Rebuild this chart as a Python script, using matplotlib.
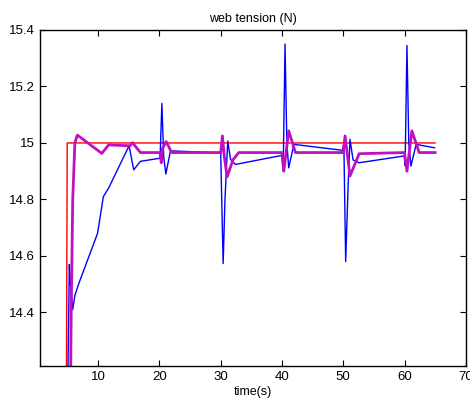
import matplotlib
matplotlib.use("Agg")
import matplotlib.pyplot as plt

# reference tension (red step)
t_ref = [4.8, 4.95, 65.0]
v_ref = [14.0, 15.0, 15.0]

# measured tension (blue)
t_meas = [4.95, 5.3, 5.4, 5.85, 6.2, 6.8, 9.9, 10.85, 11.7, 15.05, 15.8, 16.9,
          20.1, 20.4, 20.7, 21.05, 21.8, 30.0, 30.4, 30.7, 31.15, 31.6, 32.4,
          40.0, 40.2, 40.5, 40.8, 41.1, 41.95, 49.9, 50.1, 50.4, 50.8, 51.1,
          51.6, 52.6, 59.95, 60.1, 60.4, 60.7, 61.05, 61.9, 64.9]
v_meas = [14.0, 14.57, 14.52, 14.41, 14.46, 14.5, 14.68, 14.81, 14.84, 14.99,
          14.905, 14.935, 14.946, 15.14, 14.95, 14.89, 14.972, 14.965, 14.573,
          14.8, 15.007, 14.942, 14.924, 14.956, 14.9, 15.35, 15.0, 14.912,
          14.995, 14.974, 15.0, 14.58, 14.85, 15.013, 14.94, 14.93, 14.954,
          14.92, 15.345, 15.0, 14.918, 14.995, 14.983]

# estimated tension (magenta)
t_est = [5.45, 5.6, 5.85, 6.2, 6.6, 10.6, 11.7, 15.2, 15.6, 16.9, 20.1, 20.3,
         20.5, 21.1, 22.0, 30.0, 30.28, 30.6, 31.05, 32.0, 32.95, 40.0, 40.3,
         41.1, 42.2, 50.0, 50.3, 51.1, 52.6, 60.0, 60.4, 61.2, 62.4, 65.0]
v_est = [14.0, 14.4, 14.8, 15.0, 15.028, 14.963, 14.993, 14.99, 15.001, 14.966,
         14.966, 14.93, 14.98, 15.005, 14.966, 14.966, 15.025, 14.95, 14.88,
         14.94, 14.966, 14.966, 14.9, 15.043, 14.966, 14.966, 15.025, 14.883,
         14.962, 14.966, 14.9, 15.043, 14.966, 14.966]

plt.rcParams['font.family'] = ['Liberation Sans', 'DejaVu Sans']

fig = plt.figure(figsize=(4.7, 4.05), dpi=100)
ax = fig.add_axes([0.085, 0.096, 0.906, 0.83])

ax.plot(t_ref, v_ref, color='#ff0000', lw=1.0)
ax.plot(t_meas, v_meas, color='#0000ff', lw=1.0)
ax.plot(t_est, v_est, color='#c010c0', lw=2.0)

ax.set_xlim(0.5, 70)
ax.set_ylim(14.21, 15.4)
ax.set_xticks([10, 20, 30, 40, 50, 60, 70])
ax.set_yticks([14.4, 14.6, 14.8, 15.0, 15.2, 15.4])
ax.set_yticklabels(['14.4', '14.6', '14.8', '15', '15.2', '15.4'])
ax.tick_params(direction='in', top=True, right=True, labelsize=9.5,
               length=4.5, width=0.8)
for s in ax.spines.values():
    s.set_linewidth(1.0)

ax.set_title('web tension (N)', fontsize=9, pad=6)
ax.set_xlabel('time(s)', fontsize=9, labelpad=2)

fig.savefig('out.png', dpi=100)
